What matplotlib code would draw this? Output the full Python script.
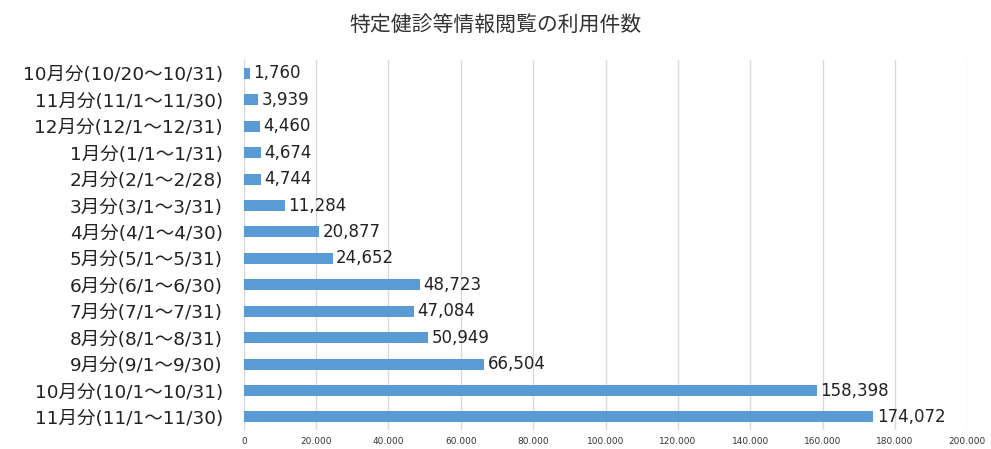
import matplotlib.pyplot as plt
from matplotlib.ticker import FuncFormatter

plt.rcParams['font.family'] = ['DejaVu Sans', 'Noto Sans CJK JP']

labels = ["10月分(10/20～10/31)", "11月分(11/1～11/30)", "12月分(12/1～12/31)",
          "1月分(1/1～1/31)", "2月分(2/1～2/28)", "3月分(3/1～3/31)",
          "4月分(4/1～4/30)", "5月分(5/1～5/31)", "6月分(6/1～6/30)",
          "7月分(7/1～7/31)", "8月分(8/1～8/31)", "9月分(9/1～9/30)",
          "10月分(10/1～10/31)", "11月分(11/1～11/30)"]
counts = [1760, 3939, 4460, 4674, 4744, 11284, 20877, 24652,
          48723, 47084, 50949, 66504, 158398, 174072]

fig = plt.figure(figsize=(9.91, 4.49), dpi=100)
ax = fig.add_axes([0.246, 0.042, 0.730, 0.824])

ypos = list(range(len(labels)))
ax.barh(ypos, counts, height=0.42, color="#5B9BD5", zorder=3)
for y, v in zip(ypos, counts):
    ax.text(v + 900, y, f"{v:,}", va="center", ha="left", fontsize=12, color="#222222")

ax.set_yticks(ypos)
ax.set_yticklabels(labels, fontsize=13.3, color="#222222")
ax.set_ylim(len(labels) - 0.5, -0.5)
ax.set_xlim(0, 200000)
ax.set_xticks(range(0, 200001, 20000))
ax.xaxis.set_major_formatter(FuncFormatter(lambda x, p: f"{int(x):,}".replace(",", ".")))
ax.tick_params(axis="x", labelsize=6.5, length=0, pad=5, colors="#333333")
ax.tick_params(axis="y", length=0, pad=15)
ax.grid(axis="x", color="#d9d9d9", linewidth=1, zorder=0)
for s in ["top", "right", "bottom"]:
    ax.spines[s].set_visible(False)
ax.spines["left"].set_color("#d9d9d9")

fig.suptitle("特定健診等情報閲覧の利用件数", x=0.5, y=0.97, fontsize=15,
             color="#333333", family=["Noto Sans CJK JP"])
fig.savefig("out.png", dpi=100)
